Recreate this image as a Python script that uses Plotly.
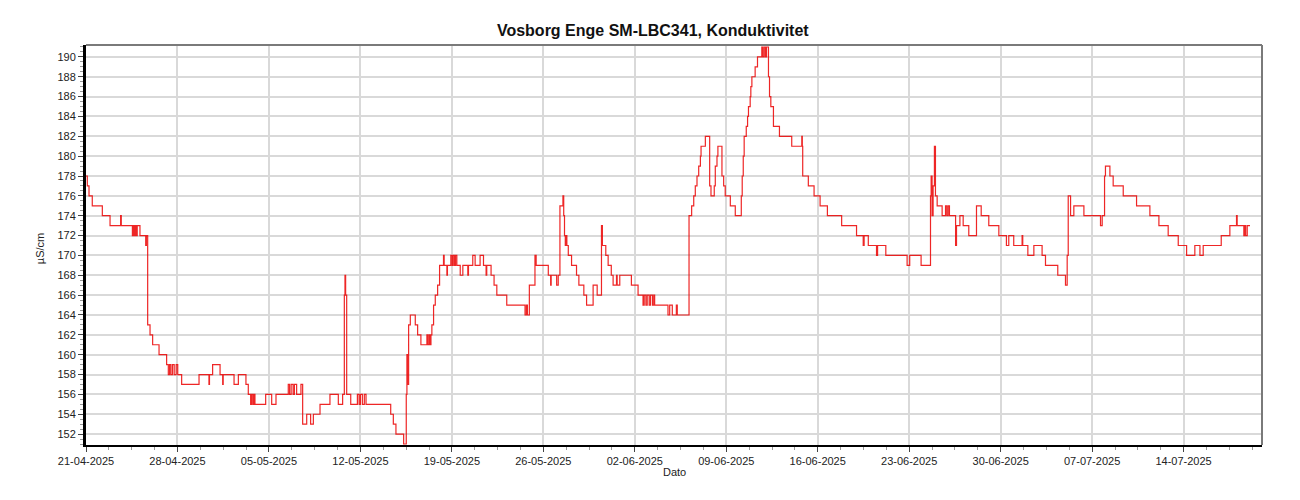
import pandas as pd
import plotly.graph_objects as go

START = "2025-04-21"
TITLE = "Vosborg Enge SM-LBC341, Konduktivitet"
Y_TITLE = "µS/cm"
X_TITLE = "Dato"

# elapsed time since START, in days
day_offset = [
    0.00, 0.10, 0.23, 0.48, 1.25, 1.84, 2.65, 2.70, 3.55, 3.62, 3.70, 3.78, 3.85, 3.92,
    4.13, 4.57, 4.62, 4.72, 4.90, 5.10, 5.59, 6.17, 6.30, 6.40, 6.50, 6.62, 6.75, 6.90,
    7.02, 7.32, 8.65, 9.41, 9.45, 9.69, 10.26, 10.46, 10.50, 11.33, 11.66, 12.24, 12.42,
    12.60, 12.68, 12.78, 12.85, 12.93, 13.75, 14.21, 14.54, 15.48, 15.58, 15.70, 15.85,
    15.95, 16.12, 16.45, 16.58, 16.89, 17.19, 17.40, 17.91, 18.67, 19.31, 19.64, 19.77,
    19.82, 19.87, 19.95, 20.26, 20.77, 20.90, 21.00, 21.15, 21.30, 21.43, 23.32, 23.52,
    23.72, 24.31, 24.51, 24.56, 24.62, 24.69, 24.82, 25.20, 25.38, 25.63, 26.09, 26.15,
    26.25, 26.32, 26.40, 26.47, 26.60, 26.73, 26.91, 27.06, 27.36, 27.41, 27.62, 27.66,
    27.92, 28.02, 28.10, 28.20, 28.28, 28.38, 28.64, 28.84, 29.22, 29.27, 29.60, 29.78,
    30.16, 30.42, 30.62, 30.67, 31.00, 31.23, 31.44, 32.20, 33.60, 33.70, 33.78, 33.93,
    34.36, 34.45, 35.38, 35.56, 35.60, 36.02, 36.14, 36.27, 36.50, 36.56, 36.62, 36.68,
    36.76, 36.80, 36.91, 37.16, 37.54, 37.72, 38.10, 38.31, 38.81, 39.12, 39.45, 39.52,
    39.78, 39.96, 40.20, 40.34, 40.60, 40.65, 40.85, 41.74, 42.25, 42.63, 42.72, 42.85,
    42.95, 43.10, 43.20, 43.35, 43.45, 43.52, 44.54, 44.67, 44.87, 45.18, 45.25, 46.15,
    46.35, 46.51, 46.63, 46.76, 46.89, 47.02, 47.07, 47.40, 47.73, 47.83, 48.08, 48.16,
    48.29, 48.36, 48.67, 48.80, 48.92, 49.31, 49.69, 50.15, 50.22, 50.30, 50.37, 50.53,
    50.63, 50.70, 50.83, 50.88, 50.96, 51.21, 51.39, 51.72, 51.80, 51.90, 52.00, 52.08,
    52.23, 52.31, 52.41, 52.61, 53.07, 54.01, 54.78, 54.82, 54.85, 55.28, 55.72, 56.18,
    56.74, 57.83, 58.97, 59.48, 59.55, 59.87, 60.50, 60.58, 61.21, 62.84, 63.04, 63.91,
    64.63, 64.68, 64.75, 64.83, 64.93, 65.01, 65.14, 65.52, 65.78, 65.88, 65.98, 66.08,
    66.55, 66.62, 66.88, 67.13, 67.56, 68.15, 68.51, 69.09, 69.86, 70.44, 70.62, 71.00,
    71.64, 71.69, 72.08, 72.54, 73.17, 73.43, 74.37, 74.96, 75.09, 75.17, 75.35, 75.60,
    76.37, 77.64, 77.77, 77.95, 78.02, 78.36, 78.61, 79.38, 80.40, 81.42, 82.11, 82.82,
    83.59, 84.23, 84.86, 85.25, 85.50, 86.88, 87.54, 88.05, 88.10, 88.61, 88.68, 88.75,
    88.87, 89.08,
]

conductivity = [
    178, 177, 176, 175, 174, 173, 174, 173, 172, 173, 172, 173, 172, 173,
    172, 171, 172, 163, 162, 161, 160, 159, 158, 159, 158, 159, 158, 159,
    158, 157, 158, 157, 158, 159, 158, 157, 158, 157, 158, 157, 156,
    155, 156, 155, 156, 155, 156, 155, 156, 157, 156, 157, 156,
    157, 156, 157, 153, 154, 153, 154, 155, 156, 155, 156, 166,
    168, 166, 156, 155, 156, 155, 156, 155, 156, 155, 154, 153,
    152, 151, 156, 160, 157, 163, 164, 163, 162, 161, 162, 161,
    162, 161, 162, 163, 165, 166, 167, 169, 170, 169, 168, 169,
    170, 169, 170, 169, 170, 169, 168, 169, 168, 169, 170, 169,
    170, 169, 168, 169, 168, 167, 166, 165, 164, 165, 164, 167,
    170, 169, 168, 167, 168, 167, 168, 175, 176, 174, 172, 171,
    172, 171, 170, 169, 168, 167, 166, 165, 167, 166, 173, 171,
    170, 169, 168, 167, 168, 167, 168, 167, 166, 165, 166, 165,
    166, 165, 166, 165, 166, 165, 164, 165, 164, 165, 164, 174,
    175, 176, 177, 178, 179, 180, 181, 182, 177, 176, 177, 179,
    180, 181, 178, 177, 176, 175, 174, 176, 178, 180, 182, 183,
    184, 185, 186, 187, 188, 189, 190, 191, 190, 191, 190, 191,
    188, 186, 185, 183, 182, 181, 182, 181, 178, 177, 176, 175,
    174, 173, 172, 171, 172, 171, 170, 171, 170, 169, 170, 169,
    176, 178, 174, 177, 181, 176, 175, 174, 175, 174, 175, 174,
    171, 173, 174, 173, 172, 175, 174, 173, 172, 171, 172, 171,
    172, 171, 170, 171, 170, 169, 168, 167, 170, 176, 174, 175,
    174, 173, 174, 178, 179, 178, 177, 176, 175, 174, 173, 172,
    171, 170, 171, 170, 171, 172, 173, 174, 173, 172, 173, 172,
    173, 173,
]

y_ticks = list(range(152, 191, 2))

times = pd.Timestamp(START) + pd.to_timedelta(day_offset, unit="D")

FONT = "Arial, Liberation Sans, sans-serif"

fig = go.Figure()
fig.add_trace(go.Scatter(
    x=times, y=conductivity, mode="lines", line_shape="hv",
    line=dict(color="rgba(235,0,0,0.85)", width=1.2),
    showlegend=False, hoverinfo="x+y",
))

fig.update_layout(
    width=1300, height=500,
    margin=dict(l=78, r=46, t=37, b=63),
    paper_bgcolor="white", plot_bgcolor="white",
    font=dict(family=FONT, size=11, color="#222"),
    title=dict(text="<b>" + TITLE + "</b>", x=0.496, xanchor="center",
               y=0.956, yanchor="middle", xref="container", yref="container",
               font=dict(family=FONT, size=16, color="#111")),
    xaxis=dict(
        type="date", range=["2025-04-21", "2025-07-20"],
        tick0="2025-04-21", dtick=7 * 86400000, tickformat="%d-%m-%Y",
        showgrid=True, gridcolor="#d9d9d9", gridwidth=2,
        ticks="outside", ticklen=5, tickcolor="#444", tickwidth=1,
        showline=True, linecolor="black", linewidth=2, mirror=False,
        minor=dict(dtick=42 * 3600000, tick0="2025-04-21", ticks="outside",
                   ticklen=3, tickcolor="#999", showgrid=False),
        tickfont=dict(family=FONT, size=11, color="#222"),
        zeroline=False,
    ),
    yaxis=dict(
        range=[150.9, 191.2], tickvals=y_ticks,
        showgrid=True, gridcolor="#d9d9d9", gridwidth=2,
        ticks="outside", ticklen=5, tickcolor="#444", tickwidth=1,
        showline=True, linecolor="black", linewidth=3, mirror=False,
        minor=dict(dtick=0.5, tick0=150, ticks="outside", ticklen=3,
                   tickcolor="#999", showgrid=False),
        tickfont=dict(family=FONT, size=11, color="#222"),
        zeroline=False,
    ),
    shapes=[
        dict(type="line", xref="paper", yref="paper", x0=0, x1=1, y0=1, y1=1,
             line=dict(color="#7a7a7a", width=2)),
        dict(type="line", xref="paper", yref="paper", x0=1, x1=1, y0=0, y1=1,
             line=dict(color="#7a7a7a", width=2)),
    ],
    annotations=[
        dict(text=Y_TITLE, xref="paper", yref="paper", x=-0.039, y=0.49,
             xanchor="center", yanchor="middle", textangle=-90, showarrow=False,
             font=dict(family=FONT, size=11, color="#222")),
        dict(text=X_TITLE, xref="paper", yref="paper", x=0.5, y=-0.068,
             xanchor="center", yanchor="middle", showarrow=False,
             font=dict(family=FONT, size=11, color="#222")),
    ],
)

fig.write_html("out.html")
